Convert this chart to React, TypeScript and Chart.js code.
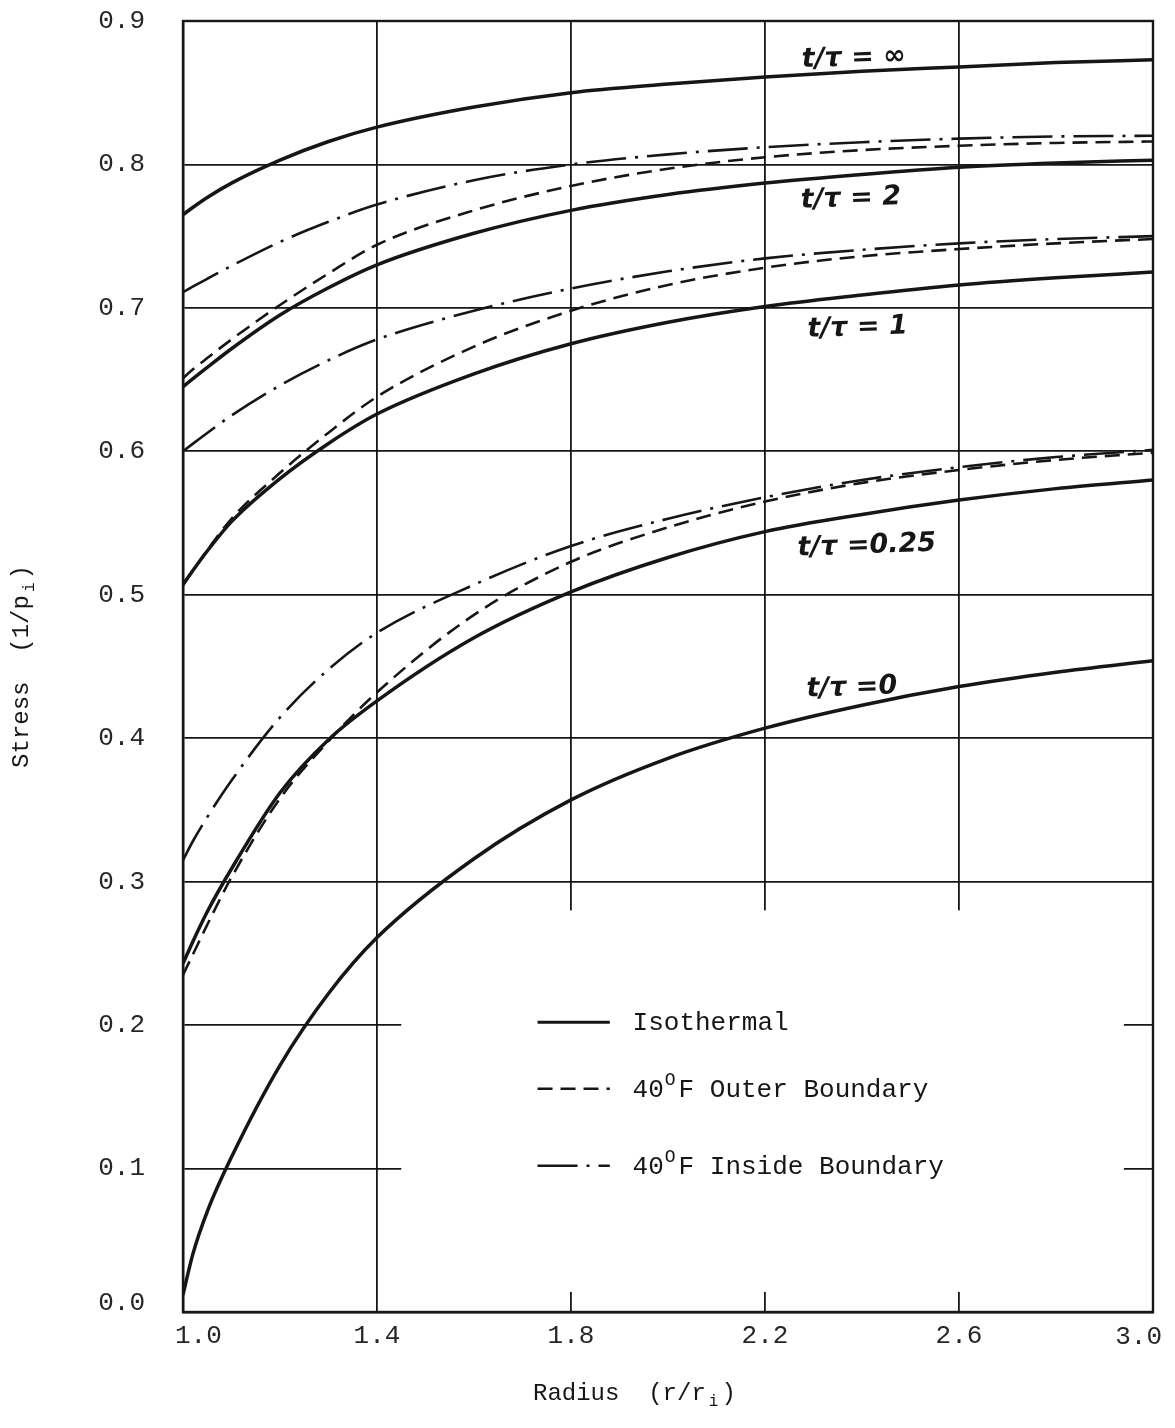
import { useEffect, useRef } from 'react';
import { Chart, registerables } from 'chart.js';

Chart.register(...registerables);

// ---- data ----
const RADIUS = [1.0, 1.02, 1.05, 1.1, 1.2, 1.3, 1.4, 1.6, 1.8, 2.0, 2.2, 2.4, 2.6, 2.8, 3.0];

const ISO_INF = [0.765, 0.770, 0.777, 0.787, 0.803, 0.816, 0.826, 0.840, 0.850, 0.856, 0.861, 0.865, 0.868, 0.871, 0.873];
const ISO_2 = [0.645, 0.6505, 0.6585, 0.6715, 0.695, 0.714, 0.730, 0.752, 0.768, 0.779, 0.787, 0.793, 0.798, 0.801, 0.803];
const OUTER_2 = [0.651, 0.657, 0.665, 0.678, 0.702, 0.724, 0.744, 0.768, 0.785, 0.797, 0.805, 0.810, 0.813, 0.815, 0.816];
const INSIDE_2 = [0.711, 0.7148, 0.7203, 0.7293, 0.746, 0.760, 0.772, 0.789, 0.800, 0.807, 0.812, 0.8155, 0.818, 0.8195, 0.820];
const ISO_1 = [0.507, 0.5167, 0.5305, 0.551, 0.581, 0.6055, 0.626, 0.654, 0.675, 0.690, 0.701, 0.709, 0.716, 0.721, 0.725];
const OUTER_1 = [0.507, 0.5167, 0.531, 0.553, 0.585, 0.613, 0.638, 0.673, 0.698, 0.716, 0.728, 0.736, 0.741, 0.745, 0.748];
const INSIDE_1 = [0.600, 0.6052, 0.6128, 0.625, 0.646, 0.6635, 0.678, 0.698, 0.7135, 0.7255, 0.7345, 0.7405, 0.745, 0.748, 0.750];
const ISO_025 = [0.243, 0.258, 0.279, 0.309, 0.362, 0.399, 0.426, 0.470, 0.502, 0.526, 0.544, 0.556, 0.566, 0.574, 0.580];
const OUTER_025 = [0.235, 0.249, 0.270, 0.303, 0.358, 0.398, 0.432, 0.486, 0.523, 0.547, 0.565, 0.578, 0.587, 0.594, 0.599];
const INSIDE_025 = [0.315, 0.328, 0.345, 0.3705, 0.4145, 0.448, 0.4735, 0.507, 0.534, 0.553, 0.568, 0.580, 0.589, 0.596, 0.601];
const ISO_0 = [0.012, 0.040, 0.070, 0.108, 0.172, 0.222, 0.261, 0.316, 0.357, 0.386, 0.407, 0.423, 0.436, 0.446, 0.454];

const X_TICKS = [1.0, 1.4, 1.8, 2.2, 2.6, 3.0];
const Y_TICKS = [0.0, 0.1, 0.2, 0.3, 0.4, 0.5, 0.6, 0.7, 0.8, 0.9];

const CURVE_LABELS = ['t/\u03C4 = \u221E', 't/\u03C4 = 2', 't/\u03C4 = 1', 't/\u03C4 =0.25', 't/\u03C4 =0'];
const CURVE_LABEL_AT = [
  [2.383, 0.874],
  [2.377, 0.776],
  [2.391, 0.686],
  [2.41, 0.534],
  [2.379, 0.435],
];

const LEGEND_LABELS = ['Isothermal', '40|O|F Outer Boundary', '40|O|F Inside Boundary'];

// ---- styles ----
const INK = '#161616';
const SOLID: number[] = [];
const DASHED = [15, 8];
const DASH_DOT = [40, 9, 3, 9];
const MONO = '"Liberation Mono", "DejaVu Sans Mono", monospace';

const SERIES = [
  { name: 'Isothermal t/\u03C4=\u221E', values: ISO_INF, dash: SOLID },
  { name: 'Isothermal t/\u03C4=2', values: ISO_2, dash: SOLID },
  { name: '40F Outer t/\u03C4=2', values: OUTER_2, dash: DASHED },
  { name: '40F Inside t/\u03C4=2', values: INSIDE_2, dash: DASH_DOT },
  { name: 'Isothermal t/\u03C4=1', values: ISO_1, dash: SOLID },
  { name: '40F Outer t/\u03C4=1', values: OUTER_1, dash: DASHED },
  { name: '40F Inside t/\u03C4=1', values: INSIDE_1, dash: DASH_DOT },
  { name: 'Isothermal t/\u03C4=0.25', values: ISO_025, dash: SOLID },
  { name: '40F Outer t/\u03C4=0.25', values: OUTER_025, dash: DASHED },
  { name: '40F Inside t/\u03C4=0.25', values: INSIDE_025, dash: DASH_DOT },
  { name: 'Isothermal t/\u03C4=0', values: ISO_0, dash: SOLID },
];
const LEGEND_DASHES = [SOLID, DASHED, DASH_DOT];

// white area around the legend (data units)
const BOX = { x0: 1.45, x1: 2.94, y0: 0.014, y1: 0.28 };
const LEGEND_ROW_Y = [0.202, 0.1556, 0.102];
const LEGEND_LINE_X = [1.731, 1.88];
const LEGEND_TEXT_X = 1.927;

type Part = { t: string; sub?: boolean; sup?: boolean };

function drawParts(ctx: CanvasRenderingContext2D, parts: Part[], x: number, y: number, size: number, center: boolean) {
  const big = `${size}px ${MONO}`;
  const small = `${Math.round(size * 0.68)}px ${MONO}`;
  const extra = (p: Part) => (p.sup ? 4 : p.sub ? 6 : 0);
  let total = 0;
  for (const p of parts) {
    ctx.font = p.sub || p.sup ? small : big;
    total += ctx.measureText(p.t).width + extra(p);
  }
  let cx = center ? x - total / 2 : x;
  for (const p of parts) {
    ctx.font = p.sub || p.sup ? small : big;
    const dy = p.sub ? size * 0.32 : p.sup ? -size * 0.38 : 0;
    ctx.fillText(p.t, cx + (p.sup ? 1 : p.sub ? 3 : 0), y + dy);
    cx += ctx.measureText(p.t).width + extra(p);
  }
}

const paperPlugin = {
  id: 'paperPlugin',
  beforeDatasetsDraw(chart: any) {
    const { ctx, chartArea: a, scales } = chart;
    const x = scales.x;
    const y = scales.y;
    ctx.save();
    const bx0 = x.getPixelForValue(BOX.x0);
    const bx1 = x.getPixelForValue(BOX.x1);
    const by0 = y.getPixelForValue(BOX.y1);
    const by1 = y.getPixelForValue(BOX.y0);
    ctx.fillStyle = '#ffffff';
    ctx.fillRect(bx0, by0, bx1 - bx0, by1 - by0);
    ctx.strokeStyle = INK;
    ctx.lineWidth = 2.4;
    ctx.strokeRect(a.left, a.top, a.right - a.left, a.bottom - a.top);

    // tick labels, placed with the library's scales
    ctx.fillStyle = '#262626';
    ctx.font = `26px ${MONO}`;
    ctx.textBaseline = 'middle';
    ctx.textAlign = 'right';
    Y_TICKS.forEach((v) => {
      const py = y.getPixelForValue(v) - (v === 0 ? 9 : 0);
      ctx.fillText(v.toFixed(1), a.left - 38, py);
    });
    X_TICKS.forEach((v, i) => {
      const px = x.getPixelForValue(v);
      if (i === 0) {
        ctx.textAlign = 'left';
        ctx.fillText(v.toFixed(1), px - 8, a.bottom + 24);
      } else if (i === X_TICKS.length - 1) {
        ctx.textAlign = 'right';
        ctx.fillText(v.toFixed(1), px + 9, a.bottom + 25);
      } else {
        ctx.textAlign = 'center';
        ctx.fillText(v.toFixed(1), px, a.bottom + 24);
      }
    });
    ctx.restore();
  },
  afterDraw(chart: any) {
    const { ctx, chartArea: a, scales } = chart;
    const x = scales.x;
    const y = scales.y;
    ctx.save();
    ctx.fillStyle = INK;
    ctx.strokeStyle = INK;
    ctx.textBaseline = 'middle';

    // curve labels (hand lettered)
    ctx.textAlign = 'center';
    ctx.font = 'italic bold 27px "DejaVu Sans", sans-serif';
    CURVE_LABELS.forEach((t, i) => {
      const px = x.getPixelForValue(CURVE_LABEL_AT[i][0]);
      const py = y.getPixelForValue(CURVE_LABEL_AT[i][1]);
      ctx.save();
      ctx.translate(px, py);
      ctx.rotate(-0.035);
      ctx.fillText(t, 0, 0);
      ctx.restore();
    });

    // legend
    ctx.textAlign = 'left';
    LEGEND_LABELS.forEach((lab, i) => {
      const py = y.getPixelForValue(LEGEND_ROW_Y[i]);
      const lx0 = x.getPixelForValue(LEGEND_LINE_X[0]);
      const lx1 = x.getPixelForValue(LEGEND_LINE_X[1]);
      ctx.save();
      ctx.lineWidth = i === 0 ? 3.2 : 2.6;
      ctx.setLineDash(LEGEND_DASHES[i]);
      ctx.beginPath();
      ctx.moveTo(lx0, py);
      ctx.lineTo(lx1, py);
      ctx.stroke();
      ctx.restore();
      const tx = x.getPixelForValue(LEGEND_TEXT_X);
      const segs = lab.split('|');
      if (segs.length === 1) {
        drawParts(ctx, [{ t: segs[0] }], tx, py + 1, 26, false);
      } else {
        drawParts(ctx, [{ t: segs[0] }, { t: segs[1], sup: true }, { t: segs[2] }], tx, py + 1, 26, false);
      }
    });

    // axis titles
    ctx.textAlign = 'left';
    drawParts(ctx, [{ t: 'Radius  (r/r' }, { t: 'i', sub: true }, { t: ')' }], a.left + 350, a.bottom + 82, 24, false);
    ctx.save();
    ctx.translate(22, (a.top + a.bottom) / 2);
    ctx.rotate(-Math.PI / 2);
    drawParts(ctx, [{ t: 'Stress  (1/p' }, { t: 'i', sub: true }, { t: ')' }], 0, 0, 24, true);
    ctx.restore();

    ctx.restore();
  },
};

export default function App() {
  const ref = useRef<HTMLCanvasElement | null>(null);

  useEffect(() => {
    const canvas = ref.current;
    if (!canvas) return;
    const chart = new Chart(canvas, {
      type: 'line',
      data: {
        datasets: SERIES.map((s) => ({
          label: s.name,
          data: RADIUS.map((r, i) => ({ x: r, y: s.values[i] })),
          borderColor: INK,
          borderWidth: s.dash.length === 0 ? 3.5 : 2.6,
          borderDash: s.dash,
          pointRadius: 0,
          fill: false,
          cubicInterpolationMode: 'monotone' as const,
        })),
      },
      options: {
        animation: false,
        responsive: false,
        events: [],
        layout: { padding: { left: 0, top: 21, right: 22, bottom: 0 } },
        plugins: { legend: { display: false }, tooltip: { enabled: false }, title: { display: false } },
        scales: {
          x: {
            type: 'linear',
            min: 1.0,
            max: 3.0,
            afterBuildTicks: (s: any) => {
              s.ticks = X_TICKS.map((v) => ({ value: v }));
            },
            afterFit: (s: any) => {
              s.height = 116;
            },
            ticks: { display: false },
            grid: { color: INK, lineWidth: 1.8, drawTicks: false },
            border: { color: INK, width: 2.4 },
          },
          y: {
            type: 'linear',
            min: 0,
            max: 0.9,
            afterBuildTicks: (s: any) => {
              s.ticks = Y_TICKS.map((v) => ({ value: v }));
            },
            afterFit: (s: any) => {
              s.width = 183;
            },
            ticks: { display: false },
            grid: { color: INK, lineWidth: 1.8, drawTicks: false },
            border: { color: INK, width: 2.4 },
          },
        },
      },
      plugins: [paperPlugin],
    });
    return () => chart.destroy();
  }, []);

  return (
    <div style={{ position: 'fixed', left: 0, top: 0, width: 1175, height: 1428, background: '#fff' }}>
      <canvas ref={ref} width={1175} height={1428} style={{ display: 'block', width: 1175, height: 1428 }} />
    </div>
  );
}
